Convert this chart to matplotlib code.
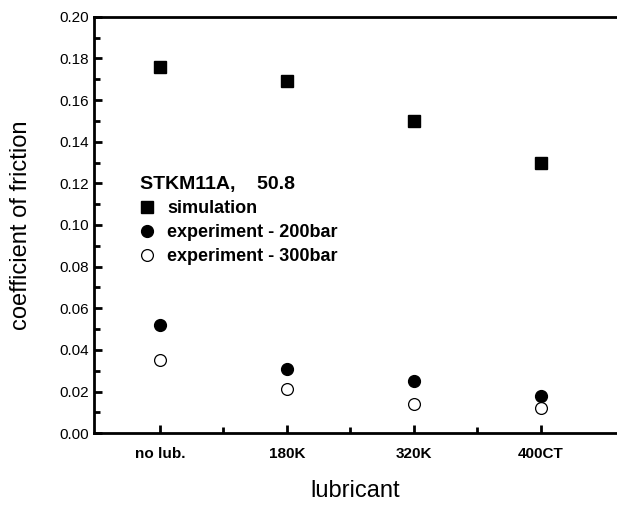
import matplotlib.pyplot as plt
from matplotlib.ticker import FixedLocator, MultipleLocator

plt.rcParams["font.family"] = ["Liberation Sans", "DejaVu Sans"]

lubricants = ["no lub.", "180K", "320K", "400CT"]
simulation = [0.176, 0.169, 0.150, 0.130]
exp_200bar = [0.052, 0.031, 0.025, 0.018]
exp_300bar = [0.035, 0.021, 0.014, 0.012]


def main() -> None:
    fig = plt.figure(figsize=(6.17, 5.09), dpi=100)
    ax = fig.add_axes([0.152, 0.149, 0.848, 0.818])

    x = list(range(1, len(lubricants) + 1))
    ax.plot(x, simulation, "s", color="black", markersize=9, label="simulation")
    ax.plot(x, exp_200bar, "o", color="black", markersize=8.5,
            label="experiment - 200bar")
    ax.plot(x, exp_300bar, "o", markerfacecolor="white", markeredgecolor="black",
            markeredgewidth=0.9, markersize=8.5, label="experiment - 300bar")

    ax.set_xlim(0.48, 4.6)
    ax.set_ylim(0.0, 0.20)
    ax.set_xticks(x)
    ax.set_xticklabels(lubricants, fontsize=11, fontweight="bold")
    ax.xaxis.set_minor_locator(FixedLocator([1.5, 2.5, 3.5]))
    ax.yaxis.set_major_locator(MultipleLocator(0.02))
    ax.yaxis.set_minor_locator(MultipleLocator(0.01))
    ax.yaxis.set_major_formatter(plt.FuncFormatter(lambda v, _: f"{v:.2f}"))
    ax.tick_params(axis="y", labelsize=11)
    ax.tick_params(which="both", direction="in", width=2)
    ax.tick_params(which="major", length=6)
    ax.tick_params(which="minor", length=4)
    ax.tick_params(axis="x", pad=10)

    for side in ["left", "top", "bottom"]:
        ax.spines[side].set_linewidth(2)
    ax.spines["right"].set_visible(False)

    ax.set_xlabel("lubricant", fontsize=17, labelpad=14)
    ax.set_ylabel("coefficient of friction", fontsize=17, labelpad=20)

    leg = ax.legend(title="STKM11A,    50.8", loc="upper left",
                    bbox_to_anchor=(0.075, 0.635), frameon=False,
                    prop={"weight": "bold", "size": 13},
                    handlelength=0.8, handletextpad=0.7, labelspacing=0.4,
                    borderaxespad=0)
    leg.get_title().set_fontsize(14)
    leg.get_title().set_fontweight("bold")
    leg._legend_box.align = "left"
    leg._legend_box.sep = 5

    fig.savefig("out.png", dpi=100)


if __name__ == "__main__":
    main()
